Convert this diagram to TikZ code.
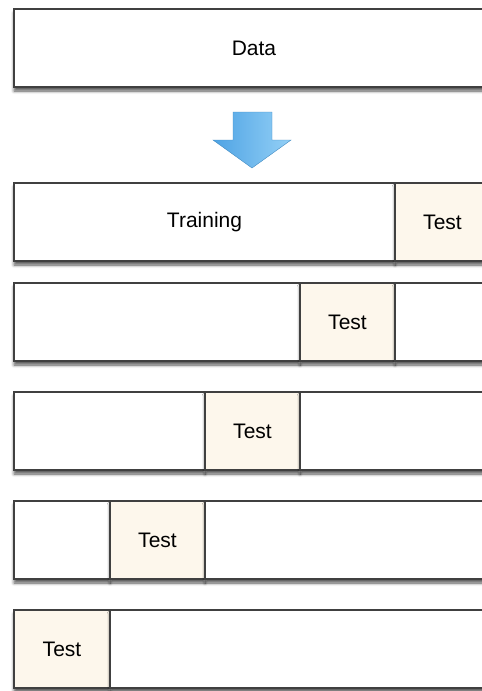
\documentclass[tikz,border=0pt]{standalone}
\usepackage{fontspec}
\setmainfont{Liberation Sans}
\usetikzlibrary{shadows.blur,positioning}
\definecolor{testfill}{RGB}{253,247,236}
\definecolor{arrowdark}{RGB}{78,163,228}
\definecolor{arrowlight}{RGB}{148,208,246}
\tikzset{x=1pt, y=-1pt, % one unit is one pixel of the reference
node distance=0pt, % segments of a row touch each other
part/.style={draw=black!75, line width=1.5pt, fill=white, minimum height=78pt, inner sep=0pt, outer sep=0pt,
  font=\fontsize{21}{24}\selectfont,
  blur shadow={shadow xshift=0pt, shadow yshift=-4pt, shadow blur radius=3pt, shadow opacity=65}}, % every box of a row
test/.style={part, fill=testfill, minimum width=95pt}, % the test fold
}
\begin{document}
\begin{tikzpicture}
\clip (0,0) rectangle (482,691);
\node[part, anchor=north west, minimum width=480pt] (data) at (14,9) {Data};
\shade[left color=arrowdark, right color=arrowlight, draw=arrowdark!85!black, line width=0.4pt]
  (233,112) -- (272,112) -- (272,140) -- (291,140) -- (252,168) -- (213,140) -- (233,140) -- cycle;
% fold 1
\node[part, anchor=north west, minimum width=381pt] (1) at (14,183) {Training};
\node[test, right=of 1] (t1) {Test};
% fold 2
\node[part, anchor=north west, minimum width=286pt] (2) at (14,283) {};
\node[test, right=of 2] (t2) {Test};
\node[part, right=of t2, minimum width=120pt] (2b) {};
% fold 3
\node[part, anchor=north west, minimum width=191pt] (3) at (14,392) {};
\node[test, right=of 3] (t3) {Test};
\node[part, right=of t3, minimum width=200pt] (3b) {};
% fold 4
\node[part, anchor=north west, minimum width=96pt] (4) at (14,501) {};
\node[test, right=of 4] (t4) {Test};
\node[part, right=of t4, minimum width=300pt] (4b) {};
% fold 5
\node[test, anchor=north west, minimum width=96pt] (t5) at (14,610) {Test};
\node[part, right=of t5, minimum width=400pt] (5b) {};
\end{tikzpicture}
\end{document}
